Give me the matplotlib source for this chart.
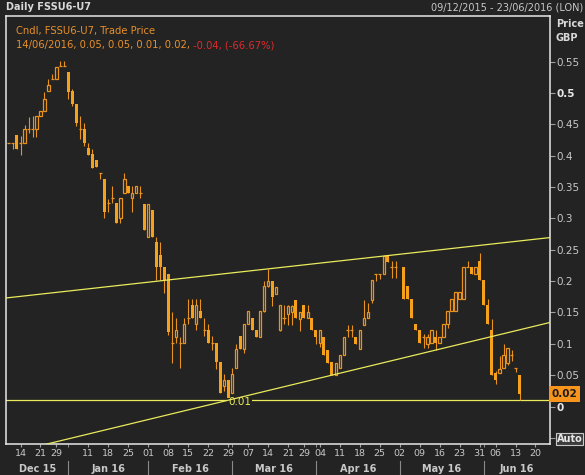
import matplotlib.pyplot as plt
import matplotlib.transforms as mtransforms
import numpy as np
import pandas as pd

# trading calendar (no trading on these UK holidays)
holidays = ['2015-12-25', '2015-12-28', '2016-01-01', '2016-03-25', '2016-03-28', '2016-05-30']
days = pd.bdate_range('2015-12-09', '2016-06-23')
days = days[~days.isin(pd.to_datetime(holidays))]

nan = np.nan
# daily candles from 09/12/2015 to 14/06/2016 (nan = no trade)
opens = [.421, .421, .433, .421, .421, .442, .442, .442, .463, .471,
         .503, .522, .522, .543, .543, .533, .503, .482, .442, .442,
         .413, .403, .393, .372, .363, .324, .332, .324, .300, .341,
         .352, .332, .341, .341, .323, .271, .313, .262, .242, .222,
         .211, .102, .111, .102, .101, .141, .162, .131, .152, .122,
         .122, .101, .101, .071, .032, .042, .021, .061, .112, .092,
         .131, .141, .122, .111, .152, .192, .200, .180, .122, .141,
         .148, .150, .170, .140, .162, .141, .141, .122, .101, .111,
         .090, .071, .050, .061, .082, .122, .122, .111, .092, .130,
         .141, .170, .211, .211, .211, .241, .222, .222, nan, .223,
         .192, .171, .131, .122, .111, .100, .101, .111, .101, .111,
         .131, .152, .152, .171, .171, .222, .222, .211, .232, .202,
         .162, .122, .053, .053, .061, .070, .082, .061, .050]
highs = [.421, .421, .433, .431, .449, .462, .463, .463, .472, .502,
         .522, .531, .542, .551, .551, .533, .506, .482, .463, .452,
         .421, .411, .393, .372, .363, .331, .351, .324, .332, .372,
         .352, .352, .352, .352, .323, .323, .313, .271, .262, .222,
         .211, .151, .141, .111, .141, .171, .171, .171, .171, .141,
         .131, .112, .101, .071, .052, .042, .061, .100, .112, .131,
         .152, .141, .122, .152, .200, .220, .200, .190, .162, .162,
         .162, .162, .170, .150, .162, .162, .141, .122, .122, .111,
         .090, .071, .070, .082, .111, .130, .130, .111, .122, .170,
         .165, .202, .211, .211, .241, .241, .232, .232, nan, .223,
         .192, .171, .131, .122, .115, .115, .122, .122, .111, .131,
         .153, .171, .182, .182, .222, .232, .222, .222, .245, .202,
         .171, .140, .056, .080, .100, .093, .090, .061, .050]
lows = [.421, .410, .410, .401, .421, .436, .430, .430, .463, .471,
        .503, .522, .522, .543, .543, .490, .480, .447, .426, .415,
        .401, .381, .382, .363, .300, .311, .324, .292, .293, .341,
        .341, .311, .341, .332, .281, .271, .271, .201, .201, .181,
        .114, .070, .102, .061, .101, .131, .141, .122, .141, .112,
        .101, .090, .060, .021, .025, .008, .021, .061, .092, .085,
        .131, .122, .111, .111, .150, .190, .160, .180, .120, .131,
        .130, .130, .141, .120, .141, .141, .122, .100, .095, .082,
        .070, .050, .050, .061, .082, .111, .111, .100, .092, .130,
        .141, .165, .200, .203, .211, .231, .205, .205, nan, .171,
        .171, .141, .122, .101, .094, .094, .101, .090, .101, .111,
        .125, .152, .152, .171, .171, .222, .211, .211, .202, .162,
        .131, .050, .036, .053, .061, .066, .072, .055, .010]
closes = [.421, .421, .410, .421, .442, .442, .442, .463, .472, .491,
          .513, .522, .542, .543, .543, .502, .482, .452, .442, .421,
          .401, .381, .382, .372, .311, .324, .332, .292, .332, .363,
          .341, .341, .352, .341, .281, .323, .271, .222, .222, .201,
          .119, .102, .122, .102, .132, .141, .141, .162, .141, .122,
          .101, .101, .071, .021, .042, .013, .052, .092, .092, .131,
          .152, .122, .111, .152, .192, .200, .174, .190, .162, .141,
          .160, .160, .141, .150, .141, .150, .122, .111, .122, .082,
          .070, .050, .070, .082, .111, .122, .122, .100, .122, .141,
          .151, .202, .211, .211, .240, .231, .222, .222, nan, .171,
          .171, .141, .122, .101, .111, .111, .122, .101, .111, .131,
          .153, .171, .182, .182, .222, .222, .211, .222, .202, .162,
          .131, .050, .042, .060, .082, .093, .082, .061, .020]

# weekly x labels
tick_dates = ['2015-12-14', '2015-12-21', '2015-12-29', '2016-01-11', '2016-01-18',
              '2016-01-25', '2016-02-01', '2016-02-08', '2016-02-15', '2016-02-22',
              '2016-02-29', '2016-03-07', '2016-03-14', '2016-03-21', '2016-03-29',
              '2016-04-04', '2016-04-11', '2016-04-18', '2016-04-25', '2016-05-02',
              '2016-05-09', '2016-05-16', '2016-05-23', '2016-05-31', '2016-06-06',
              '2016-06-13', '2016-06-20']
month_labels = ['Dec 15', 'Jan 16', 'Feb 16', 'Mar 16', 'Apr 16', 'May 16', 'Jun 16']

# drawn lines: (date, price) anchors
upper_line = [('2016-03-14', 0.2195), ('2016-04-26', 0.240)]
lower_line = [('2016-02-29', 0.010), ('2016-04-07', 0.050)]
support = 0.01

price_ticks = [-0.05, 0, 0.05, 0.1, 0.15, 0.2, 0.25, 0.3, 0.35, 0.4, 0.45, 0.5, 0.55]
price_labels = ['Auto', '0', '0.05', '0.1', '0.15', '0.2', '0.25', '0.3', '0.35',
                '0.4', '0.45', '0.5', '0.55']

bg = '#232323'
fill_col = '#f5a11c'
edge_col = '#ea921e'
yellow = '#eaea5c'

fig = plt.figure(figsize=(5.85, 4.75), dpi=100, facecolor=bg)
ax = fig.add_axes([0.0108, 0.0646, 0.9287, 0.9017])
ax.set_facecolor(bg)

# candles
o, h, l, c = map(np.array, (opens, highs, lows, closes))
x = np.arange(len(o))
ok = ~np.isnan(o)
up = ok & (c > o)
dn = ok & (c < o)
flat = ok & (c == o)
ax.vlines(x[ok], l[ok], h[ok], color=edge_col, lw=0.8, zorder=3)
ax.bar(x[dn], (o - c)[dn], bottom=c[dn], width=0.75, color=fill_col, lw=0, zorder=4)
ax.bar(x[up], (c - o)[up], bottom=o[up], width=0.6, facecolor=bg,
       edgecolor=edge_col, lw=0.9, zorder=4)
ax.hlines(o[flat], x[flat] - 0.38, x[flat] + 0.38, color=edge_col, lw=0.9, zorder=4)

# trend lines
def pos(d):
    return days.get_loc(pd.Timestamp(d))

ax.axhline(support, color=yellow, lw=0.9, zorder=2)
ax.axline((pos(upper_line[0][0]), upper_line[0][1]), (pos(upper_line[1][0]), upper_line[1][1]),
          color=yellow, lw=0.9, zorder=5)
ax.axline((pos(lower_line[0][0]), lower_line[0][1]), (pos(lower_line[1][0]), lower_line[1][1]),
          color=yellow, lw=0.9, zorder=5)
ax.text(pos('2016-02-29'), support - 0.0035, '0.01', color=yellow, fontsize=7.5,
        ha='left', va='center', zorder=3,
        bbox=dict(boxstyle='square,pad=0.12', fc=bg, ec='none'))

ax.set_xlim(-0.56, 135.54)
ax.set_ylim(-0.0603, 0.6228)

# x axis
ax.set_xticks(days.get_indexer(pd.to_datetime(tick_dates)))
ax.set_xticklabels([pd.Timestamp(d).strftime('%d') for d in tick_dates])
month_start = days.to_series().groupby(days.to_period('M')).first()
bounds = days.get_indexer(month_start.values)[1:]
ax.set_xticks(bounds, minor=True)
ax.tick_params(axis='x', which='both', length=2.5, color='#a0a0a0', labelcolor='#c8c8c8',
               labelsize=6.8, pad=1)
tr = mtransforms.blended_transform_factory(ax.transData, ax.transAxes)
edges = [-0.56] + list(bounds) + [135.54]
for i, lab in enumerate(month_labels):
    ax.text((edges[i] + edges[i + 1]) / 2, -0.057, lab, transform=tr, ha='center',
            va='center', fontsize=7, fontweight='bold', color='#c8c8c8')
for b in bounds:
    ax.plot([b, b], [-0.040, -0.075], transform=tr, color='#8a8a8a', lw=0.8, clip_on=False)

# y axis on the right
ax.yaxis.tick_right()
ax.set_yticks(price_ticks)
ax.set_yticklabels(price_labels)
ax.tick_params(axis='y', length=3.6, color='#a0a0a0', labelcolor='#c8c8c8',
               labelsize=7.5, pad=1.5)
for t in ax.get_yticklabels():
    if t.get_text() in ('0', '0.5'):
        t.set_fontweight('bold')
        t.set_color('#e8e8e8')
    if t.get_text() == 'Auto':
        t.set_fontweight('bold')
        t.set_fontsize(7)
        t.set_color('#e8e8e8')
        t.set_bbox(dict(boxstyle='square,pad=0.1', fc='#3c3c3c', ec='#c8c8c8', lw=0.8))

for s in ax.spines.values():
    s.set_color('#e8e8e8')
    s.set_linewidth(1.1)

# last price marker
ty = mtransforms.blended_transform_factory(ax.transAxes, ax.transData)
ax.text(1.004, closes[-1], '0.02', transform=ty, ha='left', va='center', fontsize=7.5,
        fontweight='bold', color='#1a1a1a', clip_on=False, zorder=10,
        bbox=dict(boxstyle='square,pad=0.25', fc='#f7941d', ec='none'))

# legend text
t1 = ax.text(0.0173, 0.965, 'Cndl, FSSU6-U7, Trade Price', transform=ax.transAxes,
             fontsize=7.2, color='#e8902a', va='center')
t2 = ax.text(0.0173, 0.932, '14/06/2016, 0.05, 0.05, 0.01, 0.02, ', transform=ax.transAxes,
             fontsize=7.2, color='#e8902a', va='center')
ax.annotate('-0.04, (-66.67%)', xy=(1, 0), xycoords=t2, va='bottom', ha='left',
            fontsize=7.2, color='#e02a2a')

# header
fig.text(6 / 585, 1 - 7 / 475, 'Daily FSSU6-U7', fontsize=7, fontweight='bold',
         color='#d8d8d8', va='center')
fig.text(583 / 585, 1 - 7 / 475, '09/12/2015 - 23/06/2016 (LON)', fontsize=7,
         color='#c8c8c8', va='center', ha='right')
fig.text(556 / 585, 1 - 24 / 475, 'Price', fontsize=7, fontweight='bold', color='#d8d8d8',
         va='center')
fig.text(556 / 585, 1 - 38 / 475, 'GBP', fontsize=7, fontweight='bold', color='#d8d8d8',
         va='center')

fig.savefig('out.png', dpi=100, facecolor=bg)
